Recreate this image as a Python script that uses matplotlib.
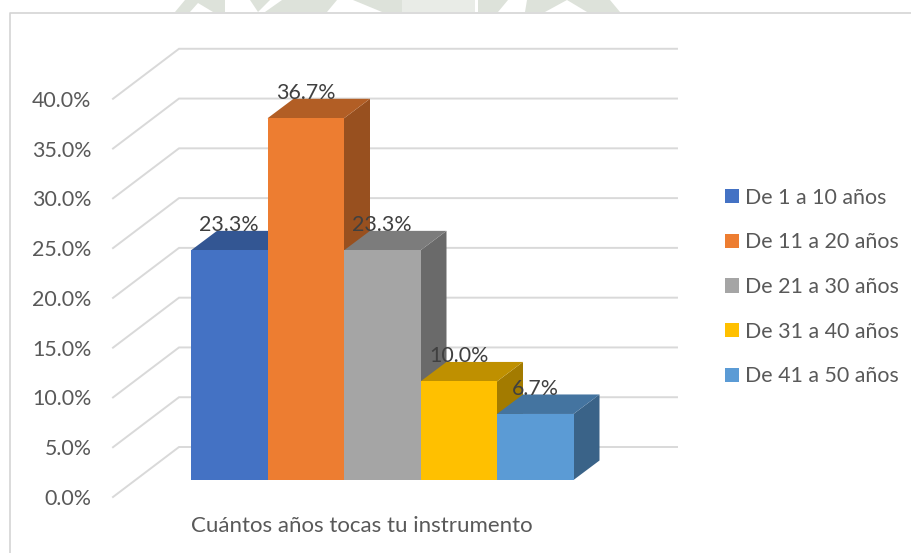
import matplotlib
matplotlib.use("Agg")
import matplotlib.pyplot as plt
from matplotlib.lines import Line2D
from matplotlib.patches import Patch, Polygon
from matplotlib.ticker import PercentFormatter

categories = ["De 1 a 10 años", "De 11 a 20 años", "De 21 a 30 años", "De 31 a 40 años", "De 41 a 50 años"]
values = [23.3, 36.7, 23.3, 10.0, 6.7]
colors = ["#4472C4", "#ED7D31", "#A5A5A5", "#FFC000", "#5B9BD5"]
y_ticks = [0, 5, 10, 15, 20, 25, 30, 35, 40]
x_title = "Cuántos años tocas tu instrumento"

W, H = 912, 553
GRID = "#D9D9D9"
TICK_TEXT = "#595959"
LABEL_TEXT = "#404040"
FONT = "Lato"
FS = 15.4

# oblique 3D look, everything in data units of the axes
PX_X = 76.5    # px per category
PX_Y = 448 / 45    # px per percent
WALL_DX = 66 / PX_X
WALL_DY = 50 / PX_Y
BAR_W = 1.0
BAR_DX = 26 / PX_X
BAR_DY = 19.5 / PX_Y
BASE_DY = 17 / PX_Y
BAR_SCALE = 0.99


def shade(hex_color, k):
    r, g, b = matplotlib.colors.to_rgb(hex_color)
    return (r * k, g * k, b * k)


fig = plt.figure(figsize=(W / 100, H / 100), dpi=100)
fig.patch.set_facecolor("white")

# pale shapes above the chart frame
wm_dark = "#DDE2DA"
wm_light = "#E9ECE7"
for pts, c in [
    ([(185, 0), (225, 0), (225, 12), (213, 12), (198, 3), (190, 12), (175, 12)], wm_dark),
    ([(250, 0), (270, 0), (258, 12)], wm_dark),
    ([(282, 0), (337, 0), (327, 12), (265, 12)], wm_dark),
    ([(353, 0), (402, 0), (402, 12), (382, 12)], wm_dark),
    ([(402, 0), (475, 0), (475, 12), (402, 12)], wm_light),
    ([(478, 0), (508, 0), (498, 12), (478, 12)], wm_dark),
    ([(527, 0), (610, 0), (620, 12), (587, 12), (567, 0), (545, 12), (525, 12)], wm_dark),
]:
    fig.add_artist(Polygon([(x / W, 1 - y / H) for x, y in pts], closed=True,
                           transform=fig.transFigure, fc=c, ec="none", zorder=0))

# chart frame: only top and left edges are inside the page
fig.add_artist(Line2D([10 / W, 10 / W, 1], [0, 1 - 12.5 / H, 1 - 12.5 / H], color="#D4D4D4", lw=1.2, zorder=1))

ax = fig.add_axes([113 / W, (H - 497) / H, 564 / W, 448 / H])
ax.set_facecolor("none")
x_left = (113 - 229.25) / PX_X
x_right = (677 - 229.25) / PX_X
ax.set_xlim(x_left, x_right)
ax.set_ylim(0, 45)
for s in ax.spines.values():
    s.set_visible(False)

ax.set_yticks(y_ticks)
ax.yaxis.set_major_formatter(PercentFormatter(decimals=1))
ax.tick_params(axis="y", length=0, pad=15.5, labelsize=FS, labelcolor=TICK_TEXT)
ax.set_xticks([])
for t in ax.get_yticklabels():
    t.set_fontfamily(FONT)

# side wall and back wall gridlines
for v in y_ticks:
    ax.plot([x_left, x_left + WALL_DX, x_right], [v, v + WALL_DY, v + WALL_DY],
            color=GRID, lw=1.4, solid_joinstyle="miter", clip_on=False, zorder=1)

# boxes, left to right so each one overlaps the previous
for i, (val, col) in enumerate(zip(values, colors)):
    x0 = i - BAR_W / 2
    x1 = i + BAR_W / 2
    y0 = BASE_DY
    y1 = BASE_DY + val * BAR_SCALE
    front = [(x0, y0), (x1, y0), (x1, y1), (x0, y1)]
    top = [(x0, y1), (x1, y1), (x1 + BAR_DX, y1 + BAR_DY), (x0 + BAR_DX, y1 + BAR_DY)]
    side = [(x1, y0), (x1 + BAR_DX, y0 + BAR_DY), (x1 + BAR_DX, y1 + BAR_DY), (x1, y1)]
    z = 2 + i
    ax.add_patch(Polygon(side, closed=True, fc=shade(col, 0.64), ec="none", zorder=z, clip_on=False))
    ax.add_patch(Polygon(top, closed=True, fc=shade(col, 0.75), ec="none", zorder=z, clip_on=False))
    ax.add_patch(Polygon(front, closed=True, fc=col, ec="none", zorder=z, clip_on=False))

for i, val in enumerate(values):
    ax.annotate(f"{val:.1f}%", (i, BASE_DY + val * BAR_SCALE), xytext=(0, 25 * 0.72), textcoords="offset points",
                ha="center", va="center", fontsize=FS, color=LABEL_TEXT, family=FONT, zorder=20)

ax.set_xlabel(x_title, fontsize=16, color=TICK_TEXT, family=FONT)
ax.xaxis.set_label_coords((361.5 - 113) / 564, (497 - 526) / 448)
ax.xaxis.label.set_va("center")

handles = [Patch(fc=c, ec="none", label=n) for n, c in zip(categories, colors)]
leg = fig.legend(handles=handles, loc="center left", bbox_to_anchor=(725 / W, 1 - 287 / H),
                 frameon=False, prop={"family": FONT, "size": FS}, handlelength=0.65, handleheight=0.65,
                 handletextpad=0.28, labelspacing=1.15, borderpad=0, borderaxespad=0)
for t in leg.get_texts():
    t.set_color(TICK_TEXT)

fig.savefig("out.png", dpi=100, facecolor="white")
